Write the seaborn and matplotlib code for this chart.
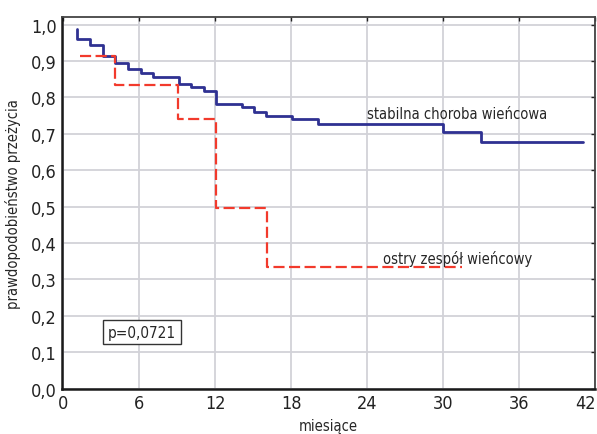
import pandas as pd
import matplotlib
matplotlib.use("Agg")
import matplotlib.pyplot as plt
import seaborn as sns

# Kaplan-Meier curves (months, survival probability)
stable_t = [1.1, 1.1, 2.1, 3.1, 4.06, 5.1, 6.1, 7.07, 9.1, 10.1, 11.07, 12.06,
            14.1, 15.07, 16.04, 18.05, 20.1, 30.0, 33.0, 41.0]
stable_s = [0.988, 0.961, 0.945, 0.915, 0.895, 0.877, 0.868, 0.856, 0.838, 0.829,
            0.817, 0.783, 0.774, 0.761, 0.750, 0.740, 0.726, 0.704, 0.677, 0.677]

acute_t = [1.3, 4.06, 9.03, 12.06, 16.1, 31.5]
acute_s = [0.915, 0.833, 0.740, 0.496, 0.334, 0.334]

x_ticks = [0, 6, 12, 18, 24, 30, 36, 42]
y_ticks = [0.0, 0.1, 0.2, 0.3, 0.4, 0.5, 0.6, 0.7, 0.8, 0.9, 1.0]
y_tick_labels = [f"{v:.1f}".replace(".", ",") for v in y_ticks]

label_stable = "stabilna choroba wieńcowa"
label_acute = "ostry zespół wieńcowy"
p_text = "p=0,0721"

stable = pd.DataFrame({"t": stable_t, "s": stable_s})
acute = pd.DataFrame({"t": acute_t, "s": acute_s})

sns.set_style("white")
# narrow face, closest to the condensed font of the original
plt.rcParams["font.family"] = ["DejaVu Sans"]
plt.rcParams["font.stretch"] = "condensed"

fig = plt.figure(figsize=(5.97, 4.35), dpi=100)
ax = fig.add_axes([0.104, 0.104, 0.893, 0.854])

sns.lineplot(data=stable, x="t", y="s", ax=ax, sort=False, estimator=None,
             drawstyle="steps-post", color="#2f3192", linewidth=2.0)
sns.lineplot(data=acute, x="t", y="s", ax=ax, sort=False, estimator=None,
             drawstyle="steps-post", color="#f23a2c", linewidth=1.6,
             linestyle=(0, (5, 2)))

ax.set_xlim(-0.1, 42)
ax.set_ylim(0, 1.02)
ax.set_xticks(x_ticks)
ax.set_yticks(y_ticks)
ax.set_yticklabels(y_tick_labels)
ax.grid(True, color="#d2d2d8", linewidth=1.3)
ax.set_axisbelow(True)

ax.tick_params(axis="both", direction="in", length=3, width=1,
               top=True, right=True, labelsize=13, pad=4, colors="#222222")
ax.get_xticklabels()[-1].set_horizontalalignment("right")
for side in ["left", "bottom"]:
    ax.spines[side].set_linewidth(1.8)
    ax.spines[side].set_color("#1a1a1a")
for side in ["top", "right"]:
    ax.spines[side].set_linewidth(1.3)
    ax.spines[side].set_color("#444444")

ax.set_xlabel("miesiące", fontsize=10.5, labelpad=4)
ax.set_ylabel("prawdopodobieństwo przeżycia", fontsize=10.5, labelpad=7)

ax.text(31.1, 0.756, label_stable, ha="center", va="center", fontsize=10.5)
ax.text(31.1, 0.36, label_acute, ha="center", va="center", fontsize=10.5)
ax.text(6.2, 0.155, p_text, ha="center", va="center", fontsize=11,
        bbox=dict(boxstyle="square,pad=0.3", facecolor="white",
                  edgecolor="#333333", linewidth=1))

fig.savefig("out.png", dpi=100)
